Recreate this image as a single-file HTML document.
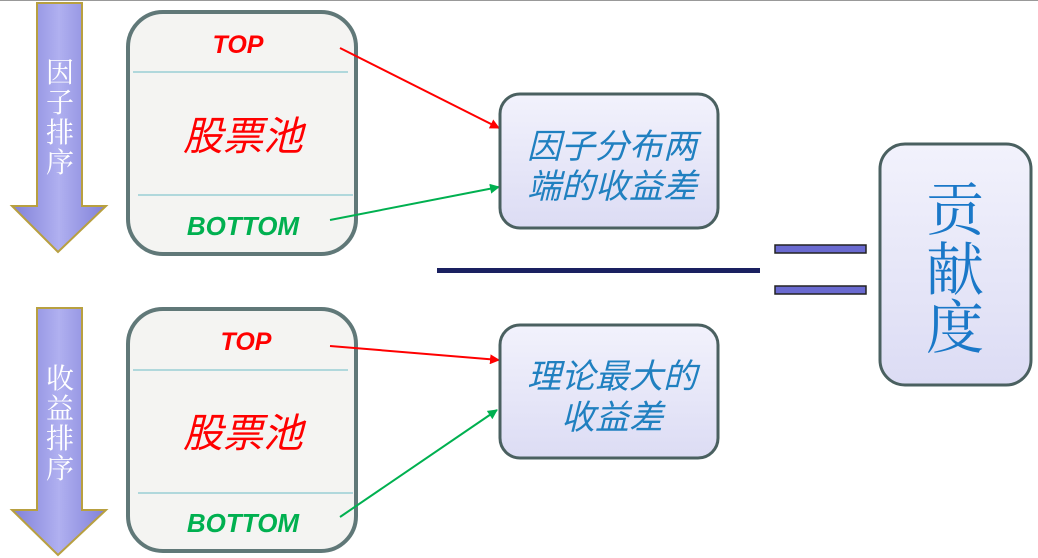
<!DOCTYPE html>
<html><head><meta charset="utf-8"><style>
html,body{margin:0;padding:0;background:#fff;width:1038px;height:558px;overflow:hidden}
svg text{font-family:"Liberation Sans","Noto Sans CJK SC",sans-serif}
svg text.serif{font-family:"Liberation Serif","Noto Serif CJK SC",serif}
</style></head><body>
<svg width="1038" height="558" viewBox="0 0 1038 558" xmlns="http://www.w3.org/2000/svg">
<defs>
<linearGradient id="ag" x1="0" x2="1"><stop offset="0" stop-color="#8080d8"/><stop offset="0.5" stop-color="#b0b0f0"/><stop offset="1" stop-color="#8080d8"/></linearGradient>
<linearGradient id="bg" x1="0" y1="0" x2="0" y2="1"><stop offset="0" stop-color="#f2f2fc"/><stop offset="1" stop-color="#dcdcf4"/></linearGradient>
<marker id="mr" markerWidth="10" markerHeight="10" refX="9" refY="5" orient="auto" markerUnits="userSpaceOnUse"><path d="M0,0 L10,5 L0,10 z" fill="#f00"/></marker>
<marker id="mg" markerWidth="10" markerHeight="10" refX="9" refY="5" orient="auto" markerUnits="userSpaceOnUse"><path d="M0,0 L10,5 L0,10 z" fill="#00b050"/></marker>
</defs>
<line x1="0" y1="0.5" x2="1038" y2="0.5" stroke="#999" stroke-width="1"/>
<path d="M37,3 H82 V206 H106 L58,252 L12,206 H37 Z" fill="url(#ag)" stroke="#b8a040" stroke-width="2"/>
<path d="M37,308 H82 V510 H106 L58,555 L12,510 H37 Z" fill="url(#ag)" stroke="#b8a040" stroke-width="2"/>
<g fill="#fff" font-size="28" text-anchor="middle">
<text class="serif" x="60" y="82">因</text><text class="serif" x="60" y="112">子</text><text class="serif" x="60" y="142">排</text><text class="serif" x="60" y="172">序</text>
<text class="serif" x="60" y="388">收</text><text class="serif" x="60" y="418">益</text><text class="serif" x="60" y="448">排</text><text class="serif" x="60" y="478">序</text>
</g>
<rect x="128" y="12" width="228" height="242" rx="35" fill="#f4f4f2" stroke="#607878" stroke-width="4"/>
<line x1="133" y1="72" x2="348" y2="72" stroke="#b0d8dc" stroke-width="2"/>
<line x1="138" y1="195" x2="353" y2="195" stroke="#b0d8dc" stroke-width="2"/>
<text x="238" y="53" fill="#f00" font-size="25" font-weight="bold" font-style="italic" text-anchor="middle">TOP</text>
<text x="243" y="150" fill="#f00" font-size="40" font-style="italic" text-anchor="middle">股票池</text>
<text x="243" y="235" fill="#00b050" font-size="26" font-weight="bold" font-style="italic" text-anchor="middle">BOTTOM</text>
<rect x="128" y="309" width="228" height="242" rx="35" fill="#f4f4f2" stroke="#607878" stroke-width="4"/>
<line x1="133" y1="370" x2="348" y2="370" stroke="#b0d8dc" stroke-width="2"/>
<line x1="138" y1="493" x2="353" y2="493" stroke="#b0d8dc" stroke-width="2"/>
<text x="246" y="350" fill="#f00" font-size="25" font-weight="bold" font-style="italic" text-anchor="middle">TOP</text>
<text x="243" y="447" fill="#f00" font-size="40" font-style="italic" text-anchor="middle">股票池</text>
<text x="243" y="532" fill="#00b050" font-size="26" font-weight="bold" font-style="italic" text-anchor="middle">BOTTOM</text>
<line x1="340" y1="48" x2="499" y2="128" stroke="#f00" stroke-width="2" marker-end="url(#mr)"/>
<line x1="330" y1="220" x2="499" y2="187" stroke="#00b050" stroke-width="2" marker-end="url(#mg)"/>
<line x1="330" y1="346" x2="499" y2="360" stroke="#f00" stroke-width="2" marker-end="url(#mr)"/>
<line x1="340" y1="517" x2="497" y2="410" stroke="#00b050" stroke-width="2" marker-end="url(#mg)"/>
<rect x="500" y="94" width="218" height="134" rx="20" fill="url(#bg)" stroke="#4a6060" stroke-width="3"/>
<text x="612" y="158" fill="#2080c0" font-size="34" font-style="italic" text-anchor="middle">因子分布两</text>
<text x="612" y="198" fill="#2080c0" font-size="34" font-style="italic" text-anchor="middle">端的收益差</text>
<rect x="500" y="325" width="218" height="133" rx="20" fill="url(#bg)" stroke="#4a6060" stroke-width="3"/>
<text x="612" y="388" fill="#2080c0" font-size="34" font-style="italic" text-anchor="middle">理论最大的</text>
<text x="612" y="429" fill="#2080c0" font-size="34" font-style="italic" text-anchor="middle">收益差</text>
<rect x="437" y="268" width="323" height="5" fill="#1a2060"/>
<rect x="775" y="245" width="91" height="8" fill="#6a6ad0" stroke="#222" stroke-width="1.5"/>
<rect x="775" y="286" width="91" height="8" fill="#6a6ad0" stroke="#222" stroke-width="1.5"/>
<rect x="880" y="144" width="151" height="241" rx="25" fill="url(#bg)" stroke="#4a6060" stroke-width="3"/>
<g fill="#1a78c8" font-size="58" text-anchor="middle">
<text class="serif" x="955" y="230">贡</text><text class="serif" x="955" y="290">献</text><text class="serif" x="955" y="348">度</text>
</g>
</svg>
</body></html>
